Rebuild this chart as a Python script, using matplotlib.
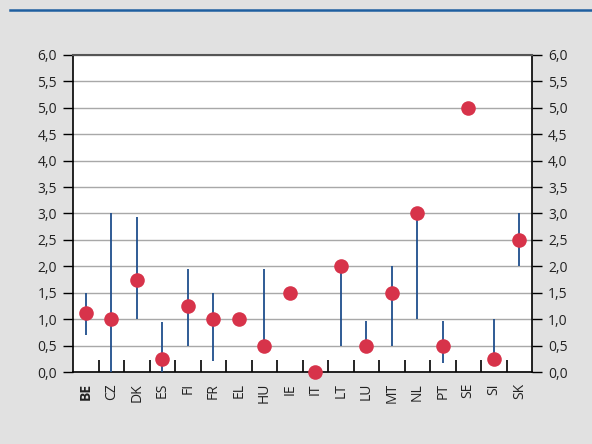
import matplotlib
matplotlib.use("Agg")
import matplotlib.pyplot as plt
from matplotlib.lines import Line2D
import numpy as np

plt.rcParams['font.family'] = ['Open Sans', 'DejaVu Sans']

countries = ["BE", "CZ", "DK", "ES", "FI", "FR", "EL", "HU", "IE", "IT",
             "LT", "LU", "MT", "NL", "PT", "SE", "SI", "SK"]
point = [1.125, 1.0, 1.75, 0.25, 1.25, 1.0, 1.0, 0.5, 1.5, 0.0,
         2.0, 0.5, 1.5, 3.0, 0.5, 5.0, 0.25, 2.5]
range_low = [0.7, 0.0, 1.0, 0.0, 0.5, 0.2, None, 0.5, None, None,
             0.5, 0.5, 0.5, 1.0, 0.17, None, 0.2, 2.0]
range_high = [1.5, 3.0, 2.93, 0.95, 1.95, 1.5, None, 1.95, None, None,
              2.0, 0.97, 2.0, 3.0, 0.97, None, 1.0, 3.0]

bg = "#e1e1e1"
red = "#d7334a"
blue = "#1f4e8c"

fig = plt.figure(figsize=(5.92, 4.44), dpi=100, facecolor=bg)
fig.add_artist(Line2D([10 / 592, 1], [1 - 10 / 444] * 2, color="#1f5fa0", lw=1.8))

ax = fig.add_axes([73 / 592, 1 - 372 / 444, 459 / 592, 317 / 444])
ax.set_facecolor("white")

x = np.arange(len(countries))
for xi, lo, hi in zip(x, range_low, range_high):
    if lo is not None:
        ax.vlines(xi, lo, hi, color=blue, lw=1.3, zorder=3)
ax.plot(x, point, "o", color=red, markersize=10.5, markeredgewidth=0, zorder=4,
        clip_on=False)

ax.set_xlim(-0.5, len(countries) - 0.5)
ax.set_ylim(0, 6)
yt = np.arange(0, 6.01, 0.5)
ax.set_yticks(yt)
ax.set_yticklabels([f"{v:.1f}".replace(".", ",") for v in yt])
ax.yaxis.grid(True, color="#a8a8a8", lw=1)
ax.set_axisbelow(True)
ax.tick_params(axis="y", which="both", left=True, right=True, labelleft=True,
               labelright=True, direction="out", length=7.5, width=1,
               labelsize=10, colors="black", labelcolor="#222222", pad=4)

ax.set_xticks(x)
ax.set_xticklabels(countries, rotation=90, color="#222222")
ax.get_xticklabels()[0].set_fontweight("bold")
ax.tick_params(axis="x", which="major", length=0, labelsize=10, pad=8)
ax.set_xticks(np.arange(0.5, len(countries) - 1, 1), minor=True)
ax.tick_params(axis="x", which="minor", direction="in", length=9, width=1.2)

for side in ["left", "right", "bottom"]:
    ax.spines[side].set_color("black")
    ax.spines[side].set_linewidth(1.2)
ax.spines["top"].set_color("#555555")
ax.spines["top"].set_linewidth(1.5)

fig.savefig("out.png", dpi=100, facecolor=bg)
